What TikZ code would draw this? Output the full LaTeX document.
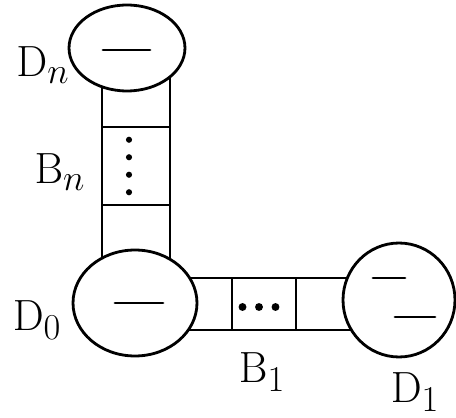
\documentclass[tikz,border=0pt]{standalone}
\usetikzlibrary{shapes.geometric,positioning}
\tikzset{
  disk/.style={
    ellipse,
    draw=black,
    fill=white,
    line width=1.6pt,
    inner sep=0pt
  },
  bandline/.style={line width=1.6pt, line cap=round},
  cell/.style={
    rectangle,
    draw=black,
    line width=1.6pt,
    inner sep=0pt
  },
  dotmark/.style={circle, fill=black, minimum size=4.5pt, inner sep=0pt},
  lbl/.style={font=\fontsize{29}{31}\selectfont}
}

\begin{document}
\begin{tikzpicture}[x=0.02cm, y=-0.02cm]
  \useasboundingbox (0,0) rectangle (456,418);
  % vertical band B_n
  \draw[bandline] (102,60) -- (102,270);
  \draw[bandline] (170,60) -- (170,270);
  \node[cell, minimum width=1.36cm, minimum height=1.56cm] (Bnmid) at (136,166) {};
  \foreach \k in {-1.5,-0.5,0.5,1.5}
    \node[dotmark, minimum size=3.5pt] at ([xshift=-0.14cm, yshift=\k*0.35cm]Bnmid.center) {};
  % horizontal band B_1
  \draw[bandline] (160,278) -- (380,278);
  \draw[bandline] (160,330) -- (380,330);
  \node[cell, minimum width=1.28cm, minimum height=1.04cm] (Bonemid) at (264,304) {};
  \foreach \k in {-1,0,1}
    \node[dotmark] at ([xshift=\k*0.33cm-0.1cm, yshift=-0.06cm]Bonemid.center) {};
  % disks
  \node[disk, minimum width=2.32cm, minimum height=1.72cm] (Dn) at (127,48) {};
  \node[disk, minimum width=2.48cm, minimum height=2.12cm] (Dzero) at (135,303) {};
  \node[disk, minimum width=2.24cm, minimum height=2.28cm] (Done) at (399,300) {};
  \draw[bandline] ([shift={(-24,2)}]Dn.center) -- ++(47,0);
  \draw[bandline] ([shift={(-20,0)}]Dzero.center) -- ++(48,0);
  \draw[bandline] ([shift={(-26,-22)}]Done.center) -- ++(32,0);
  \draw[bandline] ([shift={(-4,17)}]Done.center) -- ++(40,0);
  % labels
  \node[lbl] (lDn) at (43,65) {$\mathrm{D}_n$};
  \node[lbl] (lBn) at (60,172) {$\mathrm{B}_n$};
  \node[lbl] (lDzero) at (37,320) {$\mathrm{D}_0$};
  \node[lbl] (lBone) at (262,372) {$\mathrm{B}_1$};
  \node[lbl] (lDone) at (415,392) {$\mathrm{D}_1$};
\end{tikzpicture}
\end{document}
